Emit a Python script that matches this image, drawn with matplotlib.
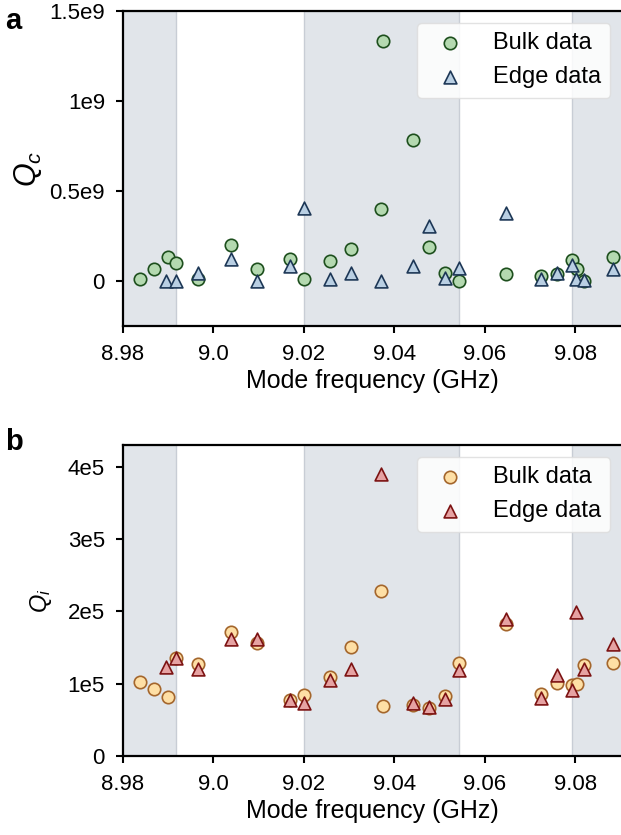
import matplotlib
matplotlib.use('Agg')
import matplotlib.pyplot as plt

plt.rcParams['font.family'] = ['Liberation Sans', 'DejaVu Sans']
plt.rcParams['mathtext.fontset'] = 'custom'
plt.rcParams['mathtext.it'] = 'Liberation Sans:italic'
plt.rcParams['mathtext.rm'] = 'Liberation Sans'

# mode frequencies (GHz)
bulk_freq = [8.9838, 8.9869, 8.9900, 8.9918, 8.9965, 9.0040, 9.0096, 9.0170,
             9.0200, 9.0257, 9.0304, 9.0370, 9.0375, 9.0441, 9.0476, 9.0511,
             9.0543, 9.0647, 9.0725, 9.0760, 9.0792, 9.0805, 9.0820, 9.0884]
edge_freq = [8.9896, 8.9918, 8.9965, 9.0040, 9.0096, 9.0170, 9.0200, 9.0257,
             9.0304, 9.0370, 9.0441, 9.0476, 9.0511, 9.0543, 9.0647, 9.0725,
             9.0760, 9.0792, 9.0801, 9.0820, 9.0884]

# coupling Q (units of 1e9)
bulk_qc = [0.009, 0.069, 0.133, 0.100, 0.013, 0.198, 0.069, 0.120,
           0.013, 0.110, 0.175, 0.401, 1.334, 0.785, 0.190, 0.046,
           0.000, 0.037, 0.028, 0.037, 0.116, 0.069, 0.000, 0.133]
edge_qc = [0.002, 0.002, 0.046, 0.124, 0.002, 0.083, 0.406, 0.013,
           0.043, 0.002, 0.083, 0.305, 0.019, 0.074, 0.379, 0.009,
           0.043, 0.087, 0.013, 0.005, 0.065]

# internal Q (units of 1e5)
bulk_qi = [1.02, 0.92, 0.81, 1.36, 1.27, 1.72, 1.56, 0.78,
           0.84, 1.09, 1.51, 2.28, 0.69, 0.70, 0.66, 0.83,
           1.29, 1.82, 0.86, 1.01, 0.98, 0.99, 1.26, 1.28]
edge_qi = [1.23, 1.35, 1.21, 1.62, 1.62, 0.77, 0.73, 1.05,
           1.21, 3.90, 0.73, 0.68, 0.79, 1.19, 1.89, 0.80,
           1.12, 0.91, 1.99, 1.21, 1.55]

# shaded bands (GHz)
bands = [(8.97, 8.9918), (9.0200, 9.0543), (9.0792, 9.10)]

xticks = [8.98, 9.00, 9.02, 9.04, 9.06, 9.08]
xticklabels = ['8.98', '9.0', '9.02', '9.04', '9.06', '9.08']

fig = plt.figure(figsize=(6.21, 8.35), dpi=100)
ax1 = fig.add_axes([0.198, 0.6096, 0.804, 0.3772])
ax2 = fig.add_axes([0.198, 0.0946, 0.804, 0.3724])


def style_axis(ax):
    for lo, hi in bands:
        ax.axvspan(lo, hi, facecolor='#e1e5ea', edgecolor='#c8cdd5', linewidth=1.0, zorder=0)
    ax.set_xlim(8.98, 9.0904)
    ax.set_xticks(xticks)
    ax.set_xticklabels(xticklabels)
    ax.tick_params(labelsize=16, length=5, width=1.5, pad=8, direction='out')
    for s in ax.spines.values():
        s.set_linewidth(1.6)
    ax.spines['right'].set_visible(False)
    ax.set_xlabel('Mode frequency (GHz)', fontsize=18, labelpad=3)


# panel a
style_axis(ax1)
ax1.scatter(bulk_freq, [q * 1e9 for q in bulk_qc], s=80, marker='o',
            facecolor='#b4d9b0', edgecolor='#1d4f1d', linewidth=1.2, zorder=3, label='Bulk data')
ax1.scatter(edge_freq, [q * 1e9 for q in edge_qc], s=85, marker='^',
            facecolor='#b9cfe3', edgecolor='#1d3756', linewidth=1.2, zorder=4, label='Edge data')
ax1.set_ylim(-0.25e9, 1.5e9)
ax1.set_yticks([0, 0.5e9, 1e9, 1.5e9])
ax1.set_yticklabels(['0', '0.5e9', '1e9', '1.5e9'])
ax1.set_ylabel('$Q_c$', fontsize=22, labelpad=4)
ax1.legend(loc='upper right', fontsize=17, framealpha=0.85, edgecolor='#dddddd')

# panel b
style_axis(ax2)
ax2.scatter(bulk_freq, [q * 1e5 for q in bulk_qi], s=80, marker='o',
            facecolor='#fedfa5', edgecolor='#a4662c', linewidth=1.2, zorder=3, label='Bulk data')
ax2.scatter(edge_freq, [q * 1e5 for q in edge_qi], s=85, marker='^',
            facecolor='#e6a2a2', edgecolor='#7c1212', linewidth=1.2, zorder=4, label='Edge data')
ax2.set_ylim(0, 4.3e5)
ax2.set_yticks([0, 1e5, 2e5, 3e5, 4e5])
ax2.set_yticklabels(['0', '1e5', '2e5', '3e5', '4e5'])
ax2.set_ylabel('$Q_i$', fontsize=17, labelpad=10)
ax2.legend(loc='upper right', fontsize=17, framealpha=0.85, edgecolor='#dddddd')

fig.text(0.008, 0.992, 'a', fontsize=21, fontweight='bold', va='top')
fig.text(0.008, 0.487, 'b', fontsize=21, fontweight='bold', va='top')

fig.savefig('out.png', dpi=100)
